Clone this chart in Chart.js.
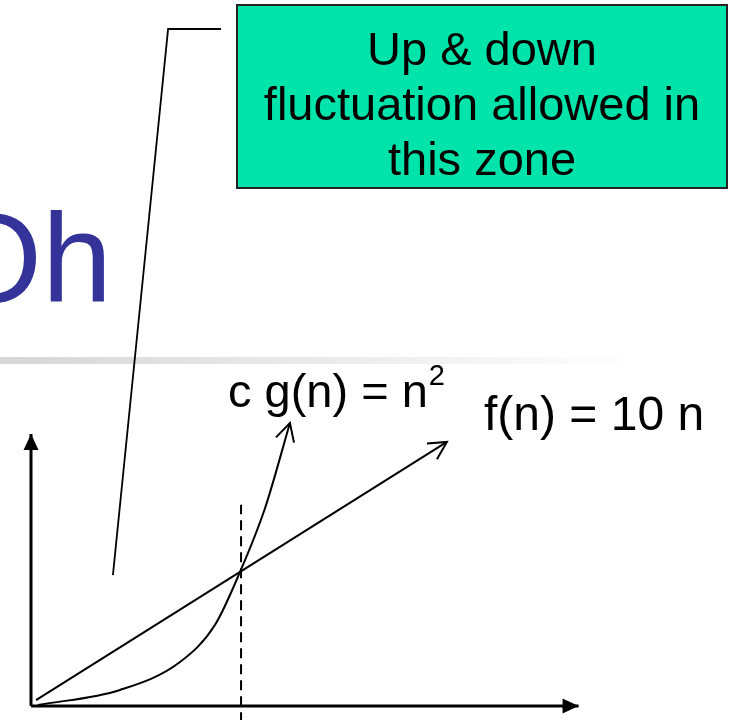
<!DOCTYPE html>
<html>
<head>
<meta charset="utf-8">
<script src="https://cdn.jsdelivr.net/npm/chart.js@4/dist/chart.umd.min.js"></script>
<style>
  html, body { margin: 0; padding: 0; background: #fff; }
  canvas { display: block; }
</style>
</head>
<body>
<canvas id="bigOh" width="733" height="720"></canvas>
<script>
// values, in (n, value) units
const fN = [0.24, 19.9];            // f(n) = 10 n, drawn as a straight line
const fV = [4.4, 195.6];
const gN = [0.33, 4.26, 7.13, 8.8, 10.0, 11.2, 12.39];  // c g(n) = n^2, hand drawn
const gV = [0.7, 11.9, 32.6, 60.0, 99.3, 146.7, 209.6];
const cutN = [10.05, 10.05];        // dashed line where the curves cross
const cutV = [-12, 149];
const leaderN = [3.92, 6.56, 9.09]; // pointer from the note box into the zone
const leaderV = [97, 501.5, 501.5];
const xAxisN = [0, 26.2];
const xAxisV = [0, 0];
const yAxisN = [0, 0];
const yAxisV = [0, 201.5];

const titleText = 'Oh';
const noteLines = ['Up & down', 'fluctuation allowed in', 'this zone'];
const gLabel = 'c g(n) = n';
const gSup = '2';
const fLabel = 'f(n) = 10 n';

// layout of the drawing on the canvas
const W = 733, H = 720;
const originX = 31, originY = 706;
const pxPerN = 20.9, pxPerV = 1.35;

const pts = (xs, ys) => xs.map((x, i) => ({ x: x, y: ys[i] }));

const FONT = '"Liberation Sans", Arial, sans-serif';

const decor = {
  id: 'decor',
  beforeDatasetsDraw(chart) {
    const ctx = chart.ctx;
    ctx.save();
    // title fragment
    ctx.fillStyle = '#333399';
    ctx.font = '126px ' + FONT;
    ctx.textAlign = 'right';
    ctx.textBaseline = 'alphabetic';
    ctx.fillText(titleText, 112, 302);
    // grey rule under the title
    const grad = ctx.createLinearGradient(0, 0, 640, 0);
    grad.addColorStop(0, '#d6d6d6');
    grad.addColorStop(1, '#ffffff');
    ctx.fillStyle = grad;
    ctx.fillRect(0, 357, W, 7);
    ctx.restore();
  },
  afterDatasetsDraw(chart) {
    const ctx = chart.ctx;
    ctx.save();
    // arrow heads on line ends
    chart.data.datasets.forEach((ds, i) => {
      if (!ds.arrow) return;
      const el = chart.getDatasetMeta(i).data;
      const a = el[el.length - 2], b = el[el.length - 1];
      const ang = Math.atan2(b.y - a.y, b.x - a.x);
      ctx.strokeStyle = '#000';
      ctx.fillStyle = '#000';
      ctx.lineWidth = 2;
      if (ds.arrow === 'open') {
        const L = 20, s = 28 * Math.PI / 180;
        ctx.beginPath();
        ctx.moveTo(b.x - L * Math.cos(ang - s), b.y - L * Math.sin(ang - s));
        ctx.lineTo(b.x, b.y);
        ctx.lineTo(b.x - L * Math.cos(ang + s), b.y - L * Math.sin(ang + s));
        ctx.stroke();
      } else {
        const L = 16, hw = 7.5;
        const bx = b.x - L * Math.cos(ang), by = b.y - L * Math.sin(ang);
        ctx.beginPath();
        ctx.moveTo(b.x, b.y);
        ctx.lineTo(bx + hw * Math.sin(ang), by - hw * Math.cos(ang));
        ctx.lineTo(bx - hw * Math.sin(ang), by + hw * Math.cos(ang));
        ctx.closePath();
        ctx.fill();
      }
    });

    // note box
    ctx.fillStyle = '#00e3aa';
    ctx.fillRect(237, 5, 490, 183);
    ctx.strokeStyle = '#222';
    ctx.lineWidth = 2;
    ctx.strokeRect(237, 5, 490, 183);
    ctx.fillStyle = '#000';
    ctx.font = '47px ' + FONT;
    ctx.textAlign = 'center';
    noteLines.forEach((t, i) => ctx.fillText(t, 482, 65 + i * 55));

    // curve labels
    ctx.textAlign = 'left';
    ctx.fillText(gLabel, 228, 407);
    const w = ctx.measureText(gLabel).width;
    ctx.font = '29px ' + FONT;
    ctx.fillText(gSup, 228 + w + 1, 385);
    ctx.font = '48px ' + FONT;
    ctx.fillText(fLabel, 484, 430);
    ctx.restore();
  }
};

const line = (data, extra) => Object.assign({
  data: data,
  showLine: true,
  borderColor: '#000',
  borderWidth: 2,
  pointRadius: 0,
  fill: false,
  tension: 0
}, extra);

new Chart(document.getElementById('bigOh'), {
  type: 'scatter',
  data: {
    datasets: [
      line(pts(xAxisN, xAxisV), { borderWidth: 3, arrow: 'filled' }),
      line(pts(yAxisN, yAxisV), { borderWidth: 3, arrow: 'filled' }),
      line(pts(cutN, cutV), { borderDash: [10, 6] }),
      line(pts(fN, fV), { arrow: 'open' }),
      line(pts(gN, gV), { cubicInterpolationMode: 'monotone', arrow: 'open' }),
      line(pts(leaderN, leaderV), { borderWidth: 1.8 })
    ]
  },
  options: {
    responsive: false,
    animation: false,
    devicePixelRatio: 1,
    layout: { padding: 0 },
    plugins: { legend: { display: false }, tooltip: { enabled: false } },
    scales: {
      x: { type: 'linear', display: false,
           min: -originX / pxPerN, max: (W - originX) / pxPerN },
      y: { type: 'linear', display: false,
           min: -(H - originY) / pxPerV, max: originY / pxPerV }
    }
  },
  plugins: [decor]
});
</script>
</body>
</html>
